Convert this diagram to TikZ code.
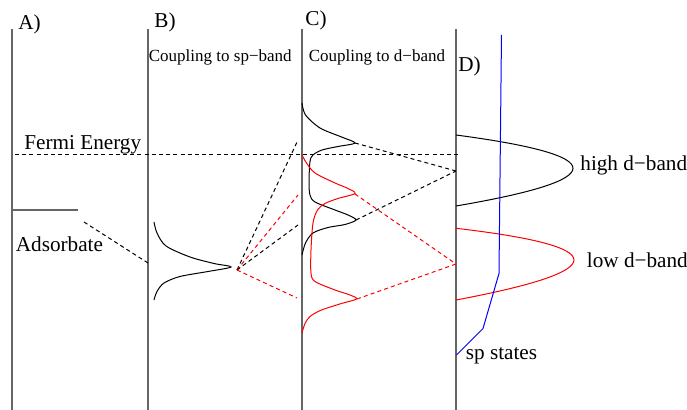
\documentclass[tikz,border=0pt]{standalone}
\usepackage{fontspec}
\setmainfont{Liberation Serif}
\begin{document}
\begin{tikzpicture}[x=0.5pt,y=-0.5pt,
  panel/.style={draw=black!60,line width=1pt},
  lbl/.style={inner sep=0pt,anchor=base west,font=\fontsize{10.6}{12}\selectfont},
  head/.style={inner sep=0pt,anchor=base west,font=\fontsize{8.5}{10}\selectfont},
  dos/.style={line width=0.5pt},
  link/.style={line width=0.5pt,dash pattern=on 2pt off 1.6pt}]
\useasboundingbox (0,0) rectangle (687,410);

% the four panels
\draw[panel] (12,29) -- (12,410);
\draw[panel] (148,29) -- (148,410);
\draw[panel] (302,29) -- (302,410);
\draw[panel] (456,29) -- (456,410);

\node[lbl] (labA) at (18,29.5) {A)};
\node[lbl] (labB) at (154,27.5) {B)};
\node[lbl] (labC) at (305,26) {C)};
\node[lbl] (labD) at (458,71.5) {D)};
\node[head] (headB) at (148.5,61.5) {Coupling to sp−band};
\node[head] (headC) at (308.5,61.5) {Coupling to d−band};

% Fermi level and adsorbate level
\node[lbl] (fermi) at (24,150) {Fermi Energy};
\coordinate (fermiL) at (15,155);
\coordinate (fermiR) at (460,155);
\draw[link] (fermiL) -- (fermiR);

\draw[panel] (12,210) -- (78,210);
\node[lbl] (ads) at (15.5,251.5) {Adsorbate};
\coordinate (adsend) at (84,222);
\coordinate (bleft) at (148,263);
\draw[link] (adsend) -- (bleft);

% B) broadened level
\draw[dos] plot[smooth] coordinates {(154,222) (157,233) (166,246) (190,257) (214,263.5) (231,267) (208,271.5) (180,276.5) (164,283) (157,291.5) (154,300)};
\coordinate (bsrc) at (237,270);

% C) split levels
\draw[dos] plot[smooth] coordinates {(302,103) (305.5,115) (320,128) (341.5,137) (355,143) (338,146.5) (322,150) (313,155) (310,161.5) (309,182) (310,195) (315,202) (335,210) (348,215) (356,220) (345,224.5) (328,227.5) (313,233) (305.5,243) (302,255)};
\draw[dos,red] plot[smooth] coordinates {(302,155) (306.5,163) (315,173) (335,183) (348,188.5) (355,193.5) (338,198.5) (325,203.5) (317.5,210) (313,223) (311,250) (311,273) (315,281.5) (335,290) (350,295) (356.5,299) (341.5,303.5) (321.5,310) (310,316.5) (305,323.5) (302,333)};
\coordinate (cb1) at (355,143);
\coordinate (cb2) at (356,220);
\coordinate (cr1) at (355,194);
\coordinate (cr2) at (357,299);
\coordinate (cb1in) at (298,140);
\coordinate (cr1in) at (298,195);
\coordinate (cb2in) at (298,225);
\coordinate (cr2in) at (297,298);

\draw[link] (bsrc) -- (cb1in);
\draw[link,red] (bsrc) -- (cr1in);
\draw[link] (bsrc) -- (cb2in);
\draw[link,red] (bsrc) -- (cr2in);

% D) d-bands and sp states
\draw[dos] (456,135) .. controls (612,155.7) and (612,179.4) .. (456,206);
\draw[dos,red] (456,228.3) .. controls (613.3,246.6) and (613.3,270.5) .. (456,300);
\draw[dos,blue] (501.5,35) -- (499,273.5) -- (483,328.5) -- (456.5,355);
\coordinate (dhi) at (456,171);
\coordinate (dlo) at (456,264);

\draw[link] (cb1) -- (dhi);
\draw[link] (cb2) -- (dhi);
\draw[link,red] (cr1) -- (dlo);
\draw[link,red] (cr2) -- (dlo);

\node[lbl] (hiband) at (580,170.5) {high d−band};
\node[lbl] (loband) at (586.5,267.5) {low d−band};
\node[lbl] (spst) at (465.5,360) {sp states};
\end{tikzpicture}
\end{document}
